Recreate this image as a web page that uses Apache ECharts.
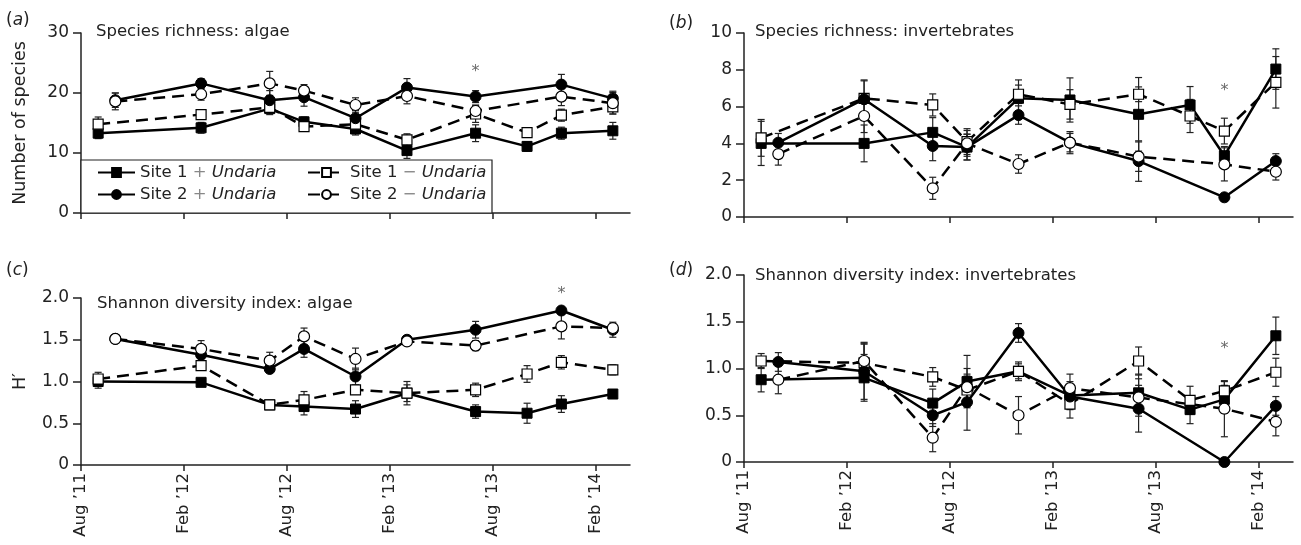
<!DOCTYPE html>
<html>
<head>
<meta charset="utf-8">
<script src="https://cdn.jsdelivr.net/npm/echarts@6/dist/echarts.min.js"></script>
<style>
  html, body { margin: 0; background: #fff; }
  #chart { width: 1301px; height: 545px; }
</style>
</head>
<body>
<div id="chart"></div>
<script>
// months since Aug 2011
const monthsSite1 = [1, 7, 11, 13, 16, 19, 23, 26, 28, 31];
const monthsSite2 = [2, 7, 11, 13, 16, 19, 23, 28, 31];
const tickMonths = [0, 6, 12, 18, 24, 30];
const tickLabels = ['Aug \u201911', 'Feb \u201912', 'Aug \u201912', 'Feb \u201913', 'Aug \u201913', 'Feb \u201914'];

// (a) species richness: algae
const aSite1Plus = [13.3, 14.2, 17.4, 15.2, 14.0, 10.4, 13.3, 11.1, 13.3, 13.7];
const aSite1PlusErr = [0.9, 0.9, 1.0, 0.8, 1.0, 1.3, 1.4, 0.8, 1.0, 1.4];
const aSite1Minus = [14.8, 16.4, 17.6, 14.4, 14.8, 12.2, 16.5, 13.4, 16.3, 17.7];
const aSite1MinusErr = [1.2, 0.8, 0.8, 0.8, 0.8, 1.0, 1.4, 0.8, 1.0, 1.2];
const aSite2Plus = [18.8, 21.6, 18.8, 19.3, 15.8, 20.9, 19.4, 21.4, 19.1];
const aSite2PlusErr = [1.2, 0.8, 1.6, 1.5, 1.3, 1.5, 1.0, 1.7, 1.2];
const aSite2Minus = [18.6, 19.8, 21.6, 20.4, 18.0, 19.5, 17.0, 19.4, 18.3];
const aSite2MinusErr = [1.4, 1.0, 2.0, 1.0, 1.2, 1.3, 1.0, 1.5, 1.8];

// (b) species richness: invertebrates
const bSite1Plus = [4.0, 4.0, 4.6, 3.8, 6.45, 6.36, 5.58, 6.09, 3.33, 8.04];
const bSite1PlusErr = [1.2, 1.0, 0.8, 0.7, 1.0, 1.2, 2.0, 1.0, 0.5, 1.1];
const bSite1Minus = [4.3, 6.45, 6.09, 4.1, 6.67, 6.12, 6.67, 5.49, 4.67, 7.32];
const bSite1MinusErr = [1.0, 1.0, 0.6, 0.7, 0.5, 0.8, 0.4, 0.9, 0.7, 1.4];
const bSite2Plus = [4.04, 6.4, 3.86, 3.8, 5.54, 4.04, 3.04, 1.07, 3.04];
const bSite2PlusErr = [0.5, 1.0, 0.8, 0.7, 0.5, 0.5, 1.1, 0.1, 0.4];
const bSite2Minus = [3.42, 5.49, 1.56, 4.0, 2.88, 4.04, 3.28, 2.86, 2.46];
const bSite2MinusErr = [0.6, 0.9, 0.6, 0.7, 0.5, 0.6, 0.8, 0.9, 0.45];

// (c) Shannon diversity: algae
const cSite1Plus = [1.0, 0.99, 0.72, 0.70, 0.67, 0.86, 0.64, 0.62, 0.73, 0.85];
const cSite1PlusErr = [0.08, 0.04, 0.04, 0.1, 0.1, 0.1, 0.08, 0.12, 0.1, 0.05];
const cSite1Minus = [1.03, 1.19, 0.72, 0.78, 0.90, 0.86, 0.90, 1.09, 1.23, 1.14];
const cSite1MinusErr = [0.08, 0.05, 0.04, 0.1, 0.05, 0.14, 0.08, 0.1, 0.08, 0.06];
const cSite2Plus = [1.51, 1.32, 1.15, 1.39, 1.06, 1.50, 1.62, 1.85, 1.62];
const cSite2PlusErr = [0.03, 0.08, 0.04, 0.1, 0.1, 0.05, 0.1, 0.04, 0.09];
const cSite2Minus = [1.51, 1.39, 1.25, 1.54, 1.27, 1.48, 1.43, 1.66, 1.64];
const cSite2MinusErr = [0.03, 0.1, 0.1, 0.1, 0.13, 0.04, 0.06, 0.15, 0.05];

// (d) Shannon diversity: invertebrates
const dSite1Plus = [0.88, 0.90, 0.63, 0.86, 0.97, 0.71, 0.74, 0.56, 0.67, 1.35];
const dSite1PlusErr = [0.13, 0.25, 0.15, 0.28, 0.1, 0.15, 0.2, 0.15, 0.15, 0.2];
const dSite1Minus = [1.08, 1.06, 0.91, 0.77, 0.97, 0.62, 1.08, 0.66, 0.76, 0.96];
const dSite1MinusErr = [0.08, 0.2, 0.1, 0.15, 0.08, 0.15, 0.15, 0.15, 0.1, 0.15];
const dSite2Plus = [1.07, 0.97, 0.50, 0.64, 1.38, 0.70, 0.57, 0.0, 0.60];
const dSite2PlusErr = [0.1, 0.3, 0.12, 0.3, 0.1, 0.1, 0.25, 0.0, 0.1];
const dSite2Minus = [0.88, 1.08, 0.26, 0.80, 0.50, 0.79, 0.69, 0.57, 0.43];
const dSite2MinusErr = [0.15, 0.2, 0.15, 0.2, 0.2, 0.15, 0.2, 0.3, 0.15];

// significance asterisks [month, value] per panel
const starPoints = [[23, 23.5], [28, 6.85], [28, 2.05], [28, 1.21]];

const FONT = 'DejaVu Sans';
const INK = '#222';
const NAMES = ['Site 1 + Undaria', 'Site 1 \u2212 Undaria', 'Site 2 + Undaria', 'Site 2 \u2212 Undaria'];

const panels = [
  [[aSite1Plus, aSite1PlusErr], [aSite1Minus, aSite1MinusErr], [aSite2Plus, aSite2PlusErr], [aSite2Minus, aSite2MinusErr]],
  [[bSite1Plus, bSite1PlusErr], [bSite1Minus, bSite1MinusErr], [bSite2Plus, bSite2PlusErr], [bSite2Minus, bSite2MinusErr]],
  [[cSite1Plus, cSite1PlusErr], [cSite1Minus, cSite1MinusErr], [cSite2Plus, cSite2PlusErr], [cSite2Minus, cSite2MinusErr]],
  [[dSite1Plus, dSite1PlusErr], [dSite1Minus, dSite1MinusErr], [dSite2Plus, dSite2PlusErr], [dSite2Minus, dSite2MinusErr]]
];

const seriesLook = [
  { symbol: 'rect', filled: true, dashed: false, months: monthsSite1 },
  { symbol: 'rect', filled: false, dashed: true, months: monthsSite1 },
  { symbol: 'circle', filled: true, dashed: false, months: monthsSite2 },
  { symbol: 'circle', filled: false, dashed: true, months: monthsSite2 }
];

function renderErr(params, api) {
  const x = api.value(0), y = api.value(1), e = api.value(2);
  const top = api.coord([x, y + e]);
  const bot = api.coord([x, y - e]);
  const st = { stroke: INK, lineWidth: 1.2 };
  const w = 3.5;
  return {
    type: 'group',
    children: [
      { type: 'line', shape: { x1: top[0], y1: top[1], x2: bot[0], y2: bot[1] }, style: st },
      { type: 'line', shape: { x1: top[0] - w, y1: top[1], x2: top[0] + w, y2: top[1] }, style: st },
      { type: 'line', shape: { x1: bot[0] - w, y1: bot[1], x2: bot[0] + w, y2: bot[1] }, style: st }
    ]
  };
}

const series = [];
panels.forEach((panel, p) => {
  panel.forEach(([vals], k) => {
    const look = seriesLook[k];
    series.push({
      type: 'line',
      name: NAMES[k],
      xAxisIndex: p,
      yAxisIndex: p,
      data: look.months.map((m, i) => [m, vals[i]]),
      symbol: look.symbol,
      symbolSize: look.symbol === 'rect' ? 10 : 11,
      showAllSymbol: true,
      lineStyle: { color: '#000', width: 2.5, type: look.dashed ? [12, 7] : 'solid' },
      itemStyle: look.filled
        ? { color: '#000', borderColor: '#000', borderWidth: 1 }
        : { color: '#fff', borderColor: '#000', borderWidth: 1.2 },
      z: 2,
      silent: true
    });
  });
  // error bars, drawn under the lines
  panel.forEach(([vals, errs], k) => {
    const look = seriesLook[k];
    series.push({
      type: 'custom',
      xAxisIndex: p,
      yAxisIndex: p,
      renderItem: renderErr,
      encode: { x: 0, y: 1 },
      data: look.months.map((m, i) => [m, vals[i], errs[i]]),
      z: 1,
      silent: true
    });
  });
  series.push({
    type: 'scatter',
    xAxisIndex: p,
    yAxisIndex: p,
    data: [starPoints[p]],
    symbolSize: 0,
    clip: false,
    silent: true,
    label: { show: true, position: 'inside', formatter: '*', fontFamily: FONT, fontSize: 16, color: '#444' }
  });
});

const grids = [
  { left: 81, top: 33, width: 549, height: 180 },
  { left: 744, top: 33, width: 549, height: 184 },
  { left: 81, top: 298, width: 549, height: 167 },
  { left: 744, top: 275, width: 549, height: 187 }
];

const axisLine = { lineStyle: { color: INK, width: 1.5 } };

const xAxes = grids.map((g, i) => ({
  type: 'value',
  gridIndex: i,
  min: 0,
  max: 32,
  axisLine: { show: true, onZero: false, ...axisLine },
  axisTick: { show: true, length: 6, customValues: tickMonths, lineStyle: { color: INK, width: 1.5 } },
  axisLabel: {
    show: i >= 2,
    customValues: tickMonths,
    rotate: 90,
    margin: 8,
    fontFamily: FONT,
    fontSize: 16.5,
    color: INK,
    formatter: v => tickLabels[tickMonths.indexOf(v)] || ''
  },
  splitLine: { show: false }
}));

const yRanges = [[30, 10], [10, 2], [2, 0.5], [2, 0.5]];
const yAxes = yRanges.map(([max, step], i) => ({
  type: 'value',
  gridIndex: i,
  min: 0,
  max: max,
  interval: step,
  name: i === 0 ? 'Number of species' : (i === 2 ? 'H\u2032' : ''),
  nameLocation: 'middle',
  nameGap: 52,
  nameTextStyle: { fontFamily: FONT, fontSize: 17.5, color: INK },
  axisLine: { show: true, ...axisLine },
  axisTick: { show: true, length: 8, lineStyle: { color: INK, width: 1.5 } },
  axisLabel: {
    margin: 12,
    fontFamily: FONT,
    fontSize: 17,
    color: INK,
    formatter: v => (step < 1 && v !== 0 ? v.toFixed(1) : String(v))
  },
  splitLine: { show: false }
}));

const titleStyle = { fontFamily: FONT, fontSize: 16.5, fontWeight: 'normal', color: INK };
const tagStyle = { fontFamily: FONT, fontSize: 17, fontWeight: 'normal', color: INK,
  rich: { i: { fontFamily: FONT, fontSize: 17, fontStyle: 'italic', color: INK } } };

const titles = [
  { text: 'Species richness: algae', left: 96, top: 23, padding: 0, textStyle: titleStyle },
  { text: 'Species richness: invertebrates', left: 755, top: 23, padding: 0, textStyle: titleStyle },
  { text: 'Shannon diversity index: algae', left: 97, top: 295, padding: 0, textStyle: titleStyle },
  { text: 'Shannon diversity index: invertebrates', left: 755, top: 267, padding: 0, textStyle: titleStyle },
  { text: '({i|a})', left: 6, top: 12, padding: 0, textStyle: tagStyle },
  { text: '({i|b})', left: 669, top: 15, padding: 0, textStyle: tagStyle },
  { text: '({i|c})', left: 6, top: 262, padding: 0, textStyle: tagStyle },
  { text: '({i|d})', left: 669, top: 262, padding: 0, textStyle: tagStyle }
];

const legendText = {
  fontFamily: FONT, fontSize: 16.5, color: INK,
  rich: {
    n: { fontFamily: FONT, fontSize: 16.5, color: INK },
    s: { fontFamily: FONT, fontSize: 16.5, color: '#888' },
    i: { fontFamily: FONT, fontSize: 16.5, color: INK, fontStyle: 'italic' }
  }
};
function legendFormat(name) {
  const m = name.match(/^(Site \d) (\S) (Undaria)$/);
  return '{n|' + m[1] + '} {s|' + m[2] + '} {i|' + m[3] + '}';
}
const legendBase = {
  orient: 'vertical', top: 164, padding: 0, itemGap: 5,
  itemWidth: 37, itemHeight: 11, selectedMode: false,
  textStyle: legendText, formatter: legendFormat
};

const chart = echarts.init(document.getElementById('chart'));
chart.setOption({
  animation: false,
  backgroundColor: '#fff',
  title: titles,
  grid: grids,
  xAxis: xAxes,
  yAxis: yAxes,
  legend: [
    { ...legendBase, left: 97, data: [NAMES[0], NAMES[2]] },
    { ...legendBase, left: 307, data: [NAMES[1], NAMES[3]] }
  ],
  graphic: [{
    type: 'rect',
    z: 1,
    shape: { x: 81, y: 160, width: 411, height: 53 },
    style: { fill: '#fff', stroke: INK, lineWidth: 1.2 }
  }],
  series: series
});
</script>
</body>
</html>
